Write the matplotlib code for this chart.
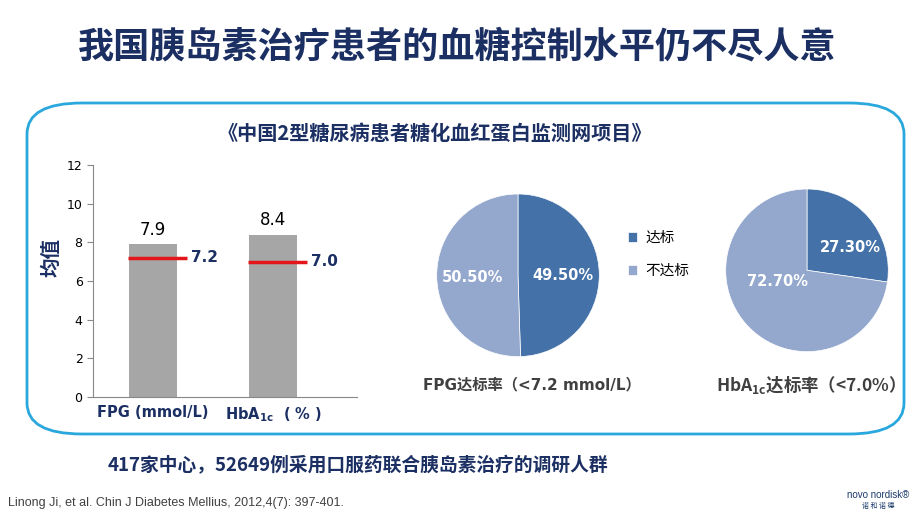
import matplotlib.pyplot as plt
from matplotlib.patches import FancyBboxPatch

plt.rcParams['font.family'] = ['DejaVu Sans', 'Noto Sans CJK SC']

# Дані стовпчикової діаграми
categories = ['FPG (mmol/L)', r'HbA$_{\mathregular{1c}}$  ( % )']
means = [7.9, 8.4]
targets = [7.2, 7.0]

# Дані кругових діаграм
pie_labels = ['达标', '不达标']
fpg_share = [49.5, 50.5]
hba1c_share = [27.3, 72.7]

navy = '#1B2F63'
dark = '#4472A8'
light = '#94A8CE'
cjk = ['Noto Sans CJK SC', 'DejaVu Sans']

fig = plt.figure(figsize=(9.2, 5.17), dpi=100)

# Заголовок і рамка
fig.text(0.497, 1 - 47 / 517, '我国胰岛素治疗患者的血糖控制水平仍不尽人意', ha='center', va='center',
         fontsize=26, fontweight='bold', color=navy, family=cjk)
box = FancyBboxPatch((27 / 920, 1 - 434 / 517), 877 / 920, 331 / 517,
                     boxstyle='round,pad=0,rounding_size=0.06',
                     transform=fig.transFigure, fill=False, edgecolor='#2AA7DC', linewidth=2)
fig.patches.append(box)
fig.text(435 / 920, 1 - 133 / 517, '《中国2型糖尿病患者糖化血红蛋白监测网项目》', ha='center', va='center',
         fontsize=14.5, fontweight='bold', color=navy, family=cjk)

# Стовпчикова діаграма
ax = fig.add_axes([93 / 920, 1 - 396.7 / 517, 264 / 920, 231.4 / 517])
x = list(range(len(means)))
ax.bar(x, means, width=0.4, color='#A6A6A6')
for i in x:
    ax.text(i, means[i] + 0.3, f'{means[i]}', ha='center', va='bottom', fontsize=12)
    ax.hlines(targets[i], i - 0.21, i + 0.28, color='#E3161B', linewidth=2.5)
    ax.text(i + 0.32, targets[i], f'{targets[i]}', ha='left', va='center', fontsize=11,
            fontweight='bold', color=navy)
ax.set_xlim(-0.5, 1.7)
ax.set_ylim(0, 12)
ax.set_yticks(range(0, 13, 2))
ax.set_xticks(x)
ax.set_xticklabels(categories, fontsize=10.5, fontweight='bold', color=navy)
ax.tick_params(axis='x', length=0, pad=6)
ax.tick_params(axis='y', labelsize=9, length=4, color='#888888')
for s in ['top', 'right']:
    ax.spines[s].set_visible(False)
for s in ['left', 'bottom']:
    ax.spines[s].set_color('#888888')
ax.set_ylabel('均值', fontsize=14, fontweight='bold', color=navy, family=cjk)
ax.yaxis.set_label_coords(-0.12, 0.6)


# Кругові діаграми
def draw_pie(cx, cy, values, label_pos, caption, cap_x, cap_y, cap_family, cap_size):
    r = 81.3
    pa = fig.add_axes([(cx - r) / 920, 1 - (cy + r) / 517, 2 * r / 920, 2 * r / 517])
    wedges, _ = pa.pie(values, colors=[dark, light], startangle=90, counterclock=False,
                       wedgeprops=dict(linewidth=0.5, edgecolor='white'))
    pa.set_xlim(-1, 1)
    pa.set_ylim(-1, 1)
    pa.set_aspect('auto')
    for v, (px, py) in zip(values, label_pos):
        fig.text(px / 920, 1 - py / 517, f'{v:.2f}%', ha='center', va='center',
                 fontsize=10.5, fontweight='bold', color='white', zorder=5)
    fig.text(cap_x / 920, 1 - cap_y / 517, caption, ha='center', va='center',
             fontsize=cap_size, fontweight='bold', color='#404040', family=cap_family)
    return wedges

w = draw_pie(518, 275.3, fpg_share, [(563, 276), (473, 278)], 'FPG达标率（<7.2 mmol/L）',
             532, 385, ['DejaVu Sans', 'Noto Sans CJK SC'], 11)
draw_pie(807, 270.3, hba1c_share, [(850, 248), (778, 281)], r'HbA$_{\mathregular{1c}}$达标率（<7.0%）',
         806, 385, ['Noto Sans CJK SC'], 12.5)

fig.legend(w, pie_labels, loc='upper left', bbox_to_anchor=(615 / 920, 1 - 218 / 517),
           frameon=False, prop={'family': cjk, 'size': 10.5}, handlelength=0.6,
           handleheight=0.6, labelspacing=1.3, handletextpad=0.6)

# Нижній текст
fig.text(108 / 920, 1 - 466 / 517, '417家中心，52649例采用口服药联合胰岛素治疗的调研人群',
         ha='left', va='center', fontsize=13.5, fontweight='bold', color=navy, family=cjk)
fig.text(8 / 920, 1 - 503 / 517, 'Linong Ji, et al. Chin J Diabetes Mellius, 2012,4(7): 397-401.',
         ha='left', va='center', fontsize=9, color='#404040', family=['Liberation Sans Narrow', 'Liberation Sans'])
fig.text(878 / 920, 1 - 495 / 517, 'novo nordisk®', ha='center', va='center', fontsize=7,
         color='#1B3A6B', family=['Liberation Sans Narrow', 'Liberation Sans'])
fig.text(878 / 920, 1 - 506 / 517, '诺 和 诺 德', ha='center', va='center', fontsize=5,
         color='#1B3A6B', family=cjk)

fig.savefig('out.png', dpi=100)
